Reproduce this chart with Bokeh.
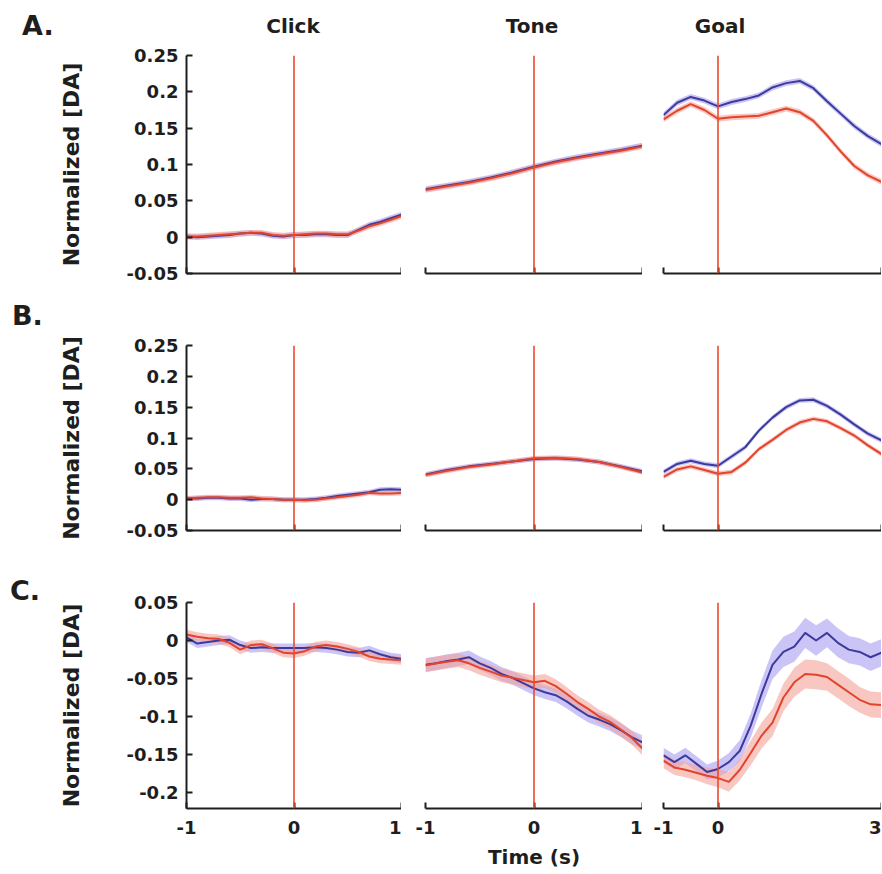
import numpy as np
from bokeh.plotting import figure
from bokeh.layouts import column, row
from bokeh.models import Range1d, FixedTicker, Span, CustomJSTickFormatter, Div
from bokeh.embed import file_html
from bokeh.resources import INLINE

# ---------------- data ----------------
col_titles = ["Click", "Tone", "Goal"]
row_letters = ["A.", "B.", "C."]
x_label = "Time (s)"
y_label = "Normalized [DA]"

y_ticks_ab = [-0.05, 0, 0.05, 0.1, 0.15, 0.2, 0.25]
y_ticks_c = [-0.2, -0.15, -0.1, -0.05, 0, 0.05]
x_ticks_short = [-1, 0, 1]
x_ticks_goal = [-1, 0, 3]

t_click = [-1, -0.9, -0.8, -0.7, -0.6, -0.5, -0.4, -0.3, -0.2, -0.1, 0,
           0.1, 0.2, 0.3, 0.4, 0.5, 0.6, 0.7, 0.8, 0.9, 1.0]
t_tone_ab = [-1, -0.8, -0.6, -0.4, -0.2, 0, 0.2, 0.4, 0.6, 0.8, 1.0]
t_goal_ab = [-1, -0.75, -0.5, -0.25, 0, 0.25, 0.5, 0.75, 1.0, 1.25, 1.5,
             1.75, 2.0, 2.25, 2.5, 2.75, 3.0]
t_goal_c = [-1, -0.8, -0.6, -0.4, -0.2, 0, 0.2, 0.4, 0.6, 0.8, 1.0, 1.2,
            1.4, 1.6, 1.8, 2.0, 2.2, 2.4, 2.6, 2.8, 3.0]

# Row A
a_click_blue = [0.001, 0.000, 0.001, 0.002, 0.003, 0.005, 0.006, 0.005, 0.002, 0.001, 0.003,
                0.003, 0.004, 0.004, 0.003, 0.003, 0.010, 0.017, 0.021, 0.026, 0.031]
a_click_red = [0.001, 0.001, 0.002, 0.003, 0.004, 0.005, 0.006, 0.006, 0.003, 0.002, 0.003,
               0.004, 0.005, 0.005, 0.004, 0.004, 0.009, 0.015, 0.019, 0.024, 0.029]
a_tone_blue = [0.066, 0.071, 0.076, 0.082, 0.089, 0.097, 0.104, 0.110, 0.115, 0.120, 0.126]
a_tone_red = [0.065, 0.070, 0.075, 0.081, 0.088, 0.096, 0.103, 0.109, 0.114, 0.119, 0.125]
a_goal_blue = [0.168, 0.185, 0.193, 0.188, 0.180, 0.186, 0.190, 0.195, 0.206, 0.212, 0.215,
               0.205, 0.187, 0.170, 0.153, 0.139, 0.128]
a_goal_red = [0.162, 0.174, 0.183, 0.175, 0.163, 0.165, 0.166, 0.167, 0.172, 0.177, 0.172,
              0.160, 0.140, 0.118, 0.098, 0.085, 0.076]

# Row B
b_click_blue = [0.002, 0.002, 0.003, 0.003, 0.002, 0.002, 0.000, 0.001, 0.001, 0.000, 0.000,
                0.000, 0.001, 0.003, 0.006, 0.008, 0.010, 0.012, 0.016, 0.017, 0.016]
b_click_red = [0.002, 0.003, 0.004, 0.004, 0.003, 0.003, 0.004, 0.002, 0.001, 0.000, 0.000,
               -0.001, 0.000, 0.002, 0.004, 0.006, 0.008, 0.011, 0.010, 0.010, 0.011]
b_tone_blue = [0.041, 0.048, 0.054, 0.058, 0.062, 0.066, 0.067, 0.065, 0.061, 0.054, 0.046]
b_tone_red = [0.040, 0.047, 0.053, 0.057, 0.062, 0.067, 0.068, 0.066, 0.061, 0.053, 0.044]
b_goal_blue = [0.045, 0.058, 0.063, 0.058, 0.055, 0.070, 0.085, 0.112, 0.133, 0.150, 0.161,
               0.162, 0.152, 0.138, 0.122, 0.107, 0.096]
b_goal_red = [0.037, 0.049, 0.054, 0.048, 0.042, 0.045, 0.060, 0.082, 0.097, 0.113, 0.125,
              0.131, 0.127, 0.116, 0.104, 0.088, 0.074]

# Row C
c_click_blue = [0.004, -0.004, -0.002, 0.000, 0.001, -0.006, -0.010, -0.009, -0.010, -0.010, -0.010,
                -0.010, -0.009, -0.010, -0.012, -0.015, -0.016, -0.013, -0.018, -0.022, -0.024]
c_click_red = [0.008, 0.005, 0.003, 0.002, -0.003, -0.012, -0.006, -0.005, -0.010, -0.016, -0.017,
               -0.014, -0.008, -0.006, -0.008, -0.011, -0.015, -0.021, -0.024, -0.025, -0.026]
c_tone_blue = [-0.032, -0.030, -0.027, -0.025, -0.022, -0.030, -0.036, -0.044, -0.049, -0.056, -0.063,
               -0.068, -0.072, -0.080, -0.090, -0.099, -0.104, -0.110, -0.118, -0.127, -0.134]
c_tone_red = [-0.033, -0.030, -0.028, -0.026, -0.030, -0.036, -0.041, -0.046, -0.049, -0.052, -0.055,
              -0.053, -0.060, -0.070, -0.081, -0.090, -0.100, -0.107, -0.117, -0.128, -0.142]
c_goal_blue = [-0.151, -0.160, -0.151, -0.162, -0.173, -0.169, -0.160, -0.145, -0.112, -0.070, -0.032,
               -0.015, -0.008, 0.010, 0.000, 0.010, -0.003, -0.012, -0.015, -0.022, -0.016]
c_goal_red = [-0.158, -0.167, -0.170, -0.174, -0.178, -0.181, -0.186, -0.170, -0.148, -0.125, -0.108,
              -0.075, -0.055, -0.044, -0.045, -0.048, -0.058, -0.068, -0.078, -0.084, -0.085]

# SEM half-widths of the shaded bands
sem_ab = 0.004
sem_c_click = 0.006
sem_c_tone = 0.009
sem_c_goal_blue = [0.010, 0.010, 0.010, 0.010, 0.010, 0.011, 0.012, 0.014, 0.016, 0.018, 0.019,
                   0.020, 0.020, 0.020, 0.020, 0.019, 0.019, 0.018, 0.018, 0.018, 0.018]
sem_c_goal_red = [0.010, 0.010, 0.010, 0.010, 0.011, 0.012, 0.013, 0.014, 0.016, 0.017, 0.018,
                  0.018, 0.019, 0.019, 0.019, 0.018, 0.018, 0.018, 0.017, 0.017, 0.017]

# ---------------- styling / layout ----------------
FONT = "DejaVu Sans"
TXT = "#1e1e1e"
BLUE = "#3b3b9e"
RED = "#e2442b"
BLUE_BAND = "#a99ef2"
RED_BAND = "#f5a29a"
VLINE = "#ec4a2c"

LETTER_W = 55                 # width of the strip holding the row letters
FW = [215, 217, 218]          # frame widths per column
BL = [186 - LETTER_W, 24, 21] # left borders per column
FH = [218, 185, 206]          # frame heights per row
BT = [14, 62, 62]             # top borders per row
BB = [10, 10, 66]             # bottom borders per row
HEADER_H = 41                 # header strip above row A (column titles)
LETTER_PAD = [(12, 22), (19, 12), (37, 10)]   # (top, left) padding of each row letter
TITLE_CX = [238, 477, 665]    # centre of each column title, from the header's left edge
TITLE_TOP = 16

HYPHEN_FMT = "return tick.toString();"


def panel(r, c, t, blue, red, sem_b, sem_r, ylim, yticks, xlim, xticks):
    p = figure(frame_width=FW[c], frame_height=FH[r],
               x_range=Range1d(*xlim), y_range=Range1d(*ylim),
               min_border_left=BL[c], min_border_right=0,
               min_border_top=BT[r], min_border_bottom=BB[r],
               output_backend="svg", toolbar_location=None, title=None,
               y_axis_location="left" if c == 0 else None)
    p.outline_line_color = None
    p.xgrid.visible = False
    p.ygrid.visible = False
    p.background_fill_color = "white"
    p.border_fill_color = "white"

    t = np.array(t, dtype=float)
    b = np.array(blue, dtype=float)
    rd = np.array(red, dtype=float)
    sb = np.array(sem_b, dtype=float) * np.ones_like(b)
    sr = np.array(sem_r, dtype=float) * np.ones_like(rd)

    p.varea(x=t, y1=b - sb, y2=b + sb, fill_color=BLUE_BAND, fill_alpha=0.6)
    p.varea(x=t, y1=rd - sr, y2=rd + sr, fill_color=RED_BAND, fill_alpha=0.6)
    p.line(t, b, line_color=BLUE, line_width=2)
    p.line(t, rd, line_color=RED, line_width=2)

    p.add_layout(Span(location=0, dimension="height", line_color=VLINE, line_width=1.6))

    xa = p.xaxis[0]
    xa.axis_line_width = 2
    xa.axis_line_color = TXT
    if r < 2:
        # ticks only, no labels: minor ticks so that no empty label texts are drawn
        xa.ticker = FixedTicker(ticks=[], minor_ticks=xticks)
        xa.minor_tick_in = 6
        xa.minor_tick_out = 0
        xa.minor_tick_line_width = 2
        xa.minor_tick_line_color = TXT
        xa.major_tick_line_color = None
        xa.major_label_standoff = 0
    else:
        xa.ticker = FixedTicker(ticks=xticks)
        xa.formatter = CustomJSTickFormatter(code=HYPHEN_FMT)
        xa.minor_tick_line_color = None
        xa.major_tick_in = 6
        xa.major_tick_out = 0
        xa.major_tick_line_width = 2
        xa.major_tick_line_color = TXT
        xa.major_label_text_font = FONT
        xa.major_label_text_font_style = "bold"
        xa.major_label_text_color = TXT
        xa.major_label_text_font_size = "18px"
        xa.major_label_standoff = 12
        if c == 1:
            xa.axis_label = x_label
            xa.axis_label_text_font = FONT
            xa.axis_label_text_font_style = "bold"
            xa.axis_label_text_font_size = "20px"
            xa.axis_label_text_color = TXT
            xa.axis_label_standoff = 8

    if c == 0:
        ya = p.yaxis[0]
        ya.ticker = FixedTicker(ticks=yticks)
        ya.formatter = CustomJSTickFormatter(code=HYPHEN_FMT)
        ya.minor_tick_line_color = None
        ya.major_tick_in = 6
        ya.major_tick_out = 0
        ya.axis_line_width = 2
        ya.axis_line_color = TXT
        ya.major_tick_line_width = 2
        ya.major_tick_line_color = TXT
        ya.major_label_text_font = FONT
        ya.major_label_text_font_style = "bold"
        ya.major_label_text_font_size = "18px"
        ya.major_label_text_color = TXT
        ya.major_label_standoff = 8
        ya.axis_label = y_label
        ya.axis_label_text_font = FONT
        ya.axis_label_text_font_style = "bold"
        ya.axis_label_text_font_size = "22px"
        ya.axis_label_text_color = TXT
        ya.axis_label_standoff = 40
    return p


def letter(r, h):
    top, left = LETTER_PAD[r]
    html = (f'<div style="padding:{top}px 0 0 {left}px; font-family:\'{FONT}\'; font-weight:bold; '
            f'font-size:27px; line-height:27px; color:{TXT};">{row_letters[r]}</div>')
    return Div(text=html, width=LETTER_W, height=h, margin=0)


def header(width):
    spans = "".join(
        f'<span style="position:absolute; left:{cx}px; top:{TITLE_TOP}px; '
        f'transform:translateX(-50%); white-space:nowrap;">{name}</span>'
        for name, cx in zip(col_titles, TITLE_CX))
    html = (f'<div style="position:relative; width:{width}px; height:{HEADER_H}px; '
            f'font-family:\'{FONT}\'; font-weight:bold; font-size:20px; line-height:20px; '
            f'color:{TXT};">{spans}</div>')
    return Div(text=html, width=width, height=HEADER_H, margin=0)


ylim_ab = (-0.05, 0.25)
ylim_c = (-0.221, 0.05)

panels = [
    [panel(0, 0, t_click, a_click_blue, a_click_red, sem_ab, sem_ab, ylim_ab, y_ticks_ab, (-1, 1), x_ticks_short),
     panel(0, 1, t_tone_ab, a_tone_blue, a_tone_red, sem_ab, sem_ab, ylim_ab, y_ticks_ab, (-1, 1), x_ticks_short),
     panel(0, 2, t_goal_ab, a_goal_blue, a_goal_red, sem_ab, sem_ab, ylim_ab, y_ticks_ab, (-1, 3), x_ticks_goal)],
    [panel(1, 0, t_click, b_click_blue, b_click_red, sem_ab, sem_ab, ylim_ab, y_ticks_ab, (-1, 1), x_ticks_short),
     panel(1, 1, t_tone_ab, b_tone_blue, b_tone_red, sem_ab, sem_ab, ylim_ab, y_ticks_ab, (-1, 1), x_ticks_short),
     panel(1, 2, t_goal_ab, b_goal_blue, b_goal_red, sem_ab, sem_ab, ylim_ab, y_ticks_ab, (-1, 3), x_ticks_goal)],
    [panel(2, 0, t_click, c_click_blue, c_click_red, sem_c_click, sem_c_click, ylim_c, y_ticks_c, (-1, 1), x_ticks_short),
     panel(2, 1, t_click, c_tone_blue, c_tone_red, sem_c_tone, sem_c_tone, ylim_c, y_ticks_c, (-1, 1), x_ticks_short),
     panel(2, 2, t_goal_c, c_goal_blue, c_goal_red, sem_c_goal_blue, sem_c_goal_red, ylim_c, y_ticks_c, (-1, 3), x_ticks_goal)],
]

figs_width = sum(BL[c] + FW[c] for c in range(3))
row_h = [BT[r] + FH[r] + BB[r] for r in range(3)]

row_a = row(letter(0, HEADER_H + row_h[0]),
            column(header(figs_width), row(*panels[0], spacing=0), spacing=0),
            spacing=0)
row_b = row(letter(1, row_h[1]), *panels[1], spacing=0)
row_c = row(letter(2, row_h[2]), *panels[2], spacing=0)

layout = column(row_a, row_b, row_c, spacing=0)

open("out.html", "w").write(file_html(layout, INLINE))
